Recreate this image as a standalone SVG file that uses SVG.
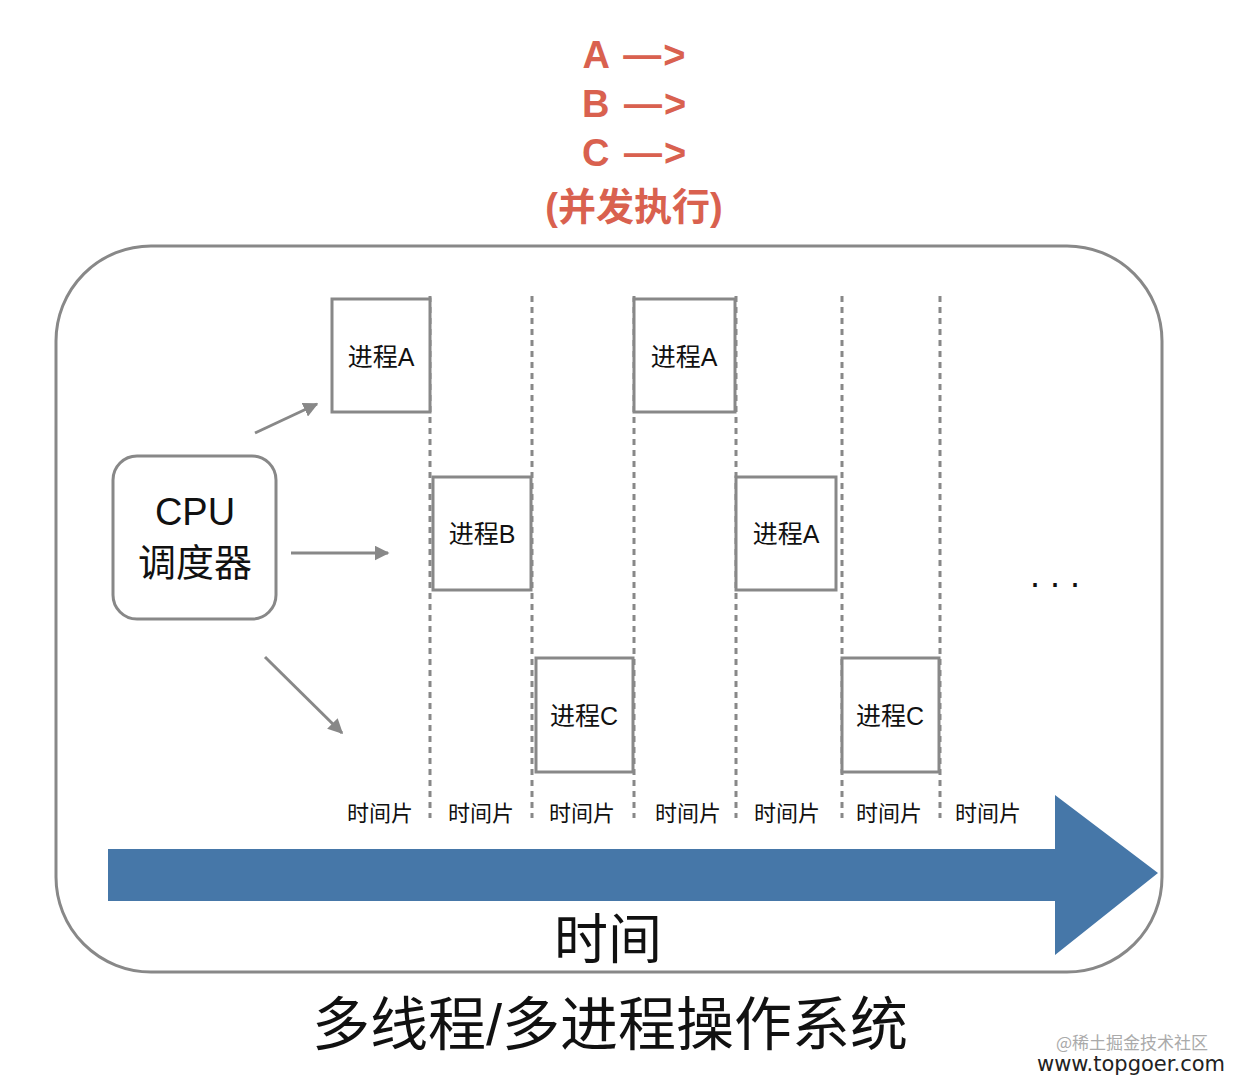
<svg xmlns="http://www.w3.org/2000/svg" width="1240" height="1085" viewBox="0 0 1240 1085">
<defs>
<marker id="ah" viewBox="0 0 10 10" refX="9" refY="5" markerWidth="5" markerHeight="5" orient="auto" markerUnits="strokeWidth">
<path d="M0,0 L10,5 L0,10 z" fill="#888"/>
</marker>
<style>
.box{fill:#fff;stroke:#888;stroke-width:3}
.dash{stroke:#888;stroke-width:3;stroke-dasharray:6 5;fill:none}
.conn{stroke:#888;stroke-width:3;fill:none;marker-end:url(#ah)}
.t{font-family:"Liberation Sans","Noto Sans CJK SC",sans-serif;fill:#111;text-anchor:middle}
.p{font-size:25px}
.s{font-size:22px}
.red{font-family:"Liberation Sans","Noto Sans CJK SC",sans-serif;fill:#d9614f;font-weight:bold;font-size:38px;text-anchor:middle}
</style>
</defs>
<rect width="1240" height="1085" fill="#fff"/>
<g id="title">
<text class="red" x="635" y="68" letter-spacing="2">A —&gt;</text>
<text class="red" x="635" y="117" letter-spacing="2">B —&gt;</text>
<text class="red" x="635" y="166" letter-spacing="2">C —&gt;</text>
<text class="red" x="634" y="220">(并发执行)</text>
</g>
<g id="frame">
<rect x="56" y="246" width="1106" height="726" rx="95" ry="95" fill="none" stroke="#888" stroke-width="3"/>
</g>
<g id="slices">
<line class="dash" x1="430" y1="296" x2="430" y2="818"/>
<line class="dash" x1="532" y1="296" x2="532" y2="818"/>
<line class="dash" x1="634" y1="296" x2="634" y2="818"/>
<line class="dash" x1="736" y1="296" x2="736" y2="818"/>
<line class="dash" x1="842" y1="296" x2="842" y2="818"/>
<line class="dash" x1="940" y1="296" x2="940" y2="818"/>
</g>
<g id="pA1"><rect class="box" x="332" y="299" width="98" height="113"/><text class="t p" x="381" y="366">进程A</text></g>
<g id="pB1"><rect class="box" x="433" y="477" width="98" height="113"/><text class="t p" x="482" y="543">进程B</text></g>
<g id="pC1"><rect class="box" x="536" y="658" width="97" height="114"/><text class="t p" x="584" y="725">进程C</text></g>
<g id="pA2"><rect class="box" x="634" y="299" width="101" height="113"/><text class="t p" x="684" y="366">进程A</text></g>
<g id="pA3"><rect class="box" x="736" y="477" width="100" height="113"/><text class="t p" x="786" y="543">进程A</text></g>
<g id="pC2"><rect class="box" x="842" y="658" width="97" height="114"/><text class="t p" x="890" y="725">进程C</text></g>
<g id="cpu">
<rect x="113" y="456" width="163" height="163" rx="24" ry="24" fill="#fff" stroke="#888" stroke-width="3"/>
<text class="t" x="195" y="525" font-size="38">CPU</text>
<text class="t" x="195" y="576" font-size="38">调度器</text>
</g>
<g id="connectors">
<line class="conn" x1="255" y1="433" x2="317" y2="404"/>
<line class="conn" x1="291" y1="553" x2="388" y2="553"/>
<line class="conn" x1="265" y1="657" x2="342" y2="733"/>
</g>
<g id="slice-labels">
<text class="t s" x="380" y="821">时间片</text>
<text class="t s" x="481" y="821">时间片</text>
<text class="t s" x="582" y="821">时间片</text>
<text class="t s" x="688" y="821">时间片</text>
<text class="t s" x="787" y="821">时间片</text>
<text class="t s" x="889" y="821">时间片</text>
<text class="t s" x="988" y="821">时间片</text>
</g>
<g id="ellipsis"><text class="t" x="1055" y="587" font-size="36">. . .</text></g>
<g id="timeline">
<path d="M108,849 L1055,849 L1055,795 L1158,873 L1055,955 L1055,901 L108,901 z" fill="#4677a8"/>
<text class="t" x="608" y="959" font-size="54">时间</text>
</g>
<g id="caption"><text class="t" x="610" y="1045" font-size="58">多线程/多进程操作系统</text></g>
<g id="watermark">
<text x="1132" y="1049" font-family="'Noto Sans CJK SC',sans-serif" font-size="17" fill="#aaa" text-anchor="middle">@稀土掘金技术社区</text>
<text x="1131" y="1071" font-family="'DejaVu Sans',sans-serif" font-size="21" fill="#222" text-anchor="middle">www.topgoer.com</text>
</g>
</svg>
